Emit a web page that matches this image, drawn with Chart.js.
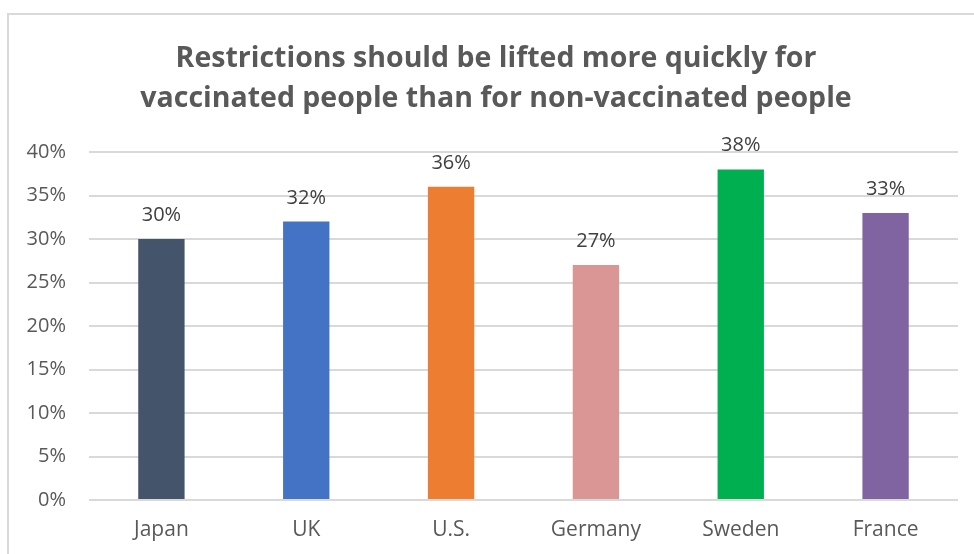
<!DOCTYPE html>
<html>
<head>
<meta charset="utf-8">
<script src="https://cdn.jsdelivr.net/npm/chart.js@4/dist/chart.umd.min.js"></script>
<style>
  html, body { margin: 0; padding: 0; background: #fff; }
  #wrap { position: relative; width: 974px; height: 554px; overflow: hidden; }
  #frame { position: absolute; left: 7px; top: 13px; width: 1000px; height: 600px;
           border-left: 2px solid #d9d9d9; border-top: 2px solid #d9d9d9; box-sizing: border-box; }
  canvas { position: absolute; left: 0; top: 0; }
</style>
</head>
<body>
<div id="wrap">
  <div id="frame"></div>
  <canvas id="c" width="974" height="554"></canvas>
</div>
<script>
const categories = ["Japan", "UK", "U.S.", "Germany", "Sweden", "France"];
const values = [30, 32, 36, 27, 38, 33];
const barColors = ["#44546A", "#4472C4", "#ED7D31", "#DA9694", "#00B050", "#8064A2"];
const yTicks = [0, 5, 10, 15, 20, 25, 30, 35, 40];
const titleLines = ["Restrictions should be lifted more quickly for",
                    "vaccinated people than for non-vaccinated people"];

const FONT = "'Open Sans', 'Noto Sans', sans-serif";

// Two-line bold heading, centred over the plot
const heading = {
  id: "heading",
  afterDraw(chart) {
    const ctx = chart.ctx;
    ctx.save();
    ctx.font = "bold 28.5px " + FONT;
    ctx.fillStyle = "#595959";
    ctx.textAlign = "center";
    ctx.textBaseline = "alphabetic";
    titleLines.forEach((line, i) => ctx.fillText(line, 496, 67 + i * 40));
    ctx.restore();
  }
};

// Writes each bar's value above it
const valueLabels = {
  id: "valueLabels",
  afterDatasetsDraw(chart) {
    const ctx = chart.ctx;
    const meta = chart.getDatasetMeta(0);
    ctx.save();
    ctx.font = "20px " + FONT;
    ctx.fillStyle = "#404040";
    ctx.textAlign = "center";
    ctx.textBaseline = "alphabetic";
    meta.data.forEach((bar, i) => {
      ctx.fillText(values[i] + "%", bar.x, bar.y - 18);
    });
    ctx.restore();
  }
};

new Chart(document.getElementById("c"), {
  type: "bar",
  data: {
    labels: categories,
    datasets: [{
      data: values,
      backgroundColor: barColors,
      borderWidth: 0,
      barPercentage: 0.32,
      categoryPercentage: 1.0
    }]
  },
  options: {
    responsive: false,
    animation: false,
    devicePixelRatio: 1,
    layout: { padding: { left: 0, right: 16, top: 152, bottom: 0 } },
    plugins: {
      legend: { display: false },
      tooltip: { enabled: false },
      title: { display: false }
    },
    scales: {
      x: {
        grid: { display: false, drawTicks: false },
        border: { display: false },
        ticks: { color: "#595959", font: { family: FONT, size: 21 }, padding: 17 },
        afterFit(scale) { scale.height = 54; }
      },
      y: {
        min: 0,
        max: 40,
        afterBuildTicks(scale) { scale.ticks = yTicks.map(v => ({ value: v })); },
        grid: { color: "#d9d9d9", lineWidth: 2, drawTicks: false },
        border: { display: false },
        ticks: {
          color: "#595959",
          font: { family: FONT, size: 20 },
          padding: 23,
          callback: v => v + "%"
        },
        afterFit(scale) { scale.width = 89; }
      }
    }
  },
  plugins: [heading, valueLabels]
});
</script>
</body>
</html>
